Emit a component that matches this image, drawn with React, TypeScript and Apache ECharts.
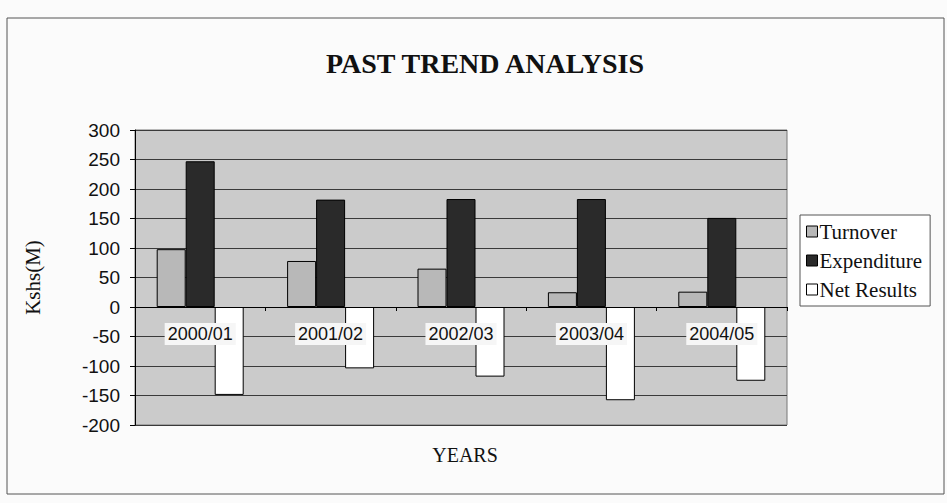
import React, { useEffect, useRef } from "react";
import * as echarts from "echarts";

const categories = ["2000/01", "2001/02", "2002/03", "2003/04", "2004/05"];
const turnover = [98, 78, 65, 25, 26];
const expenditure = [247, 182, 183, 183, 151];
const netResults = [-149, -104, -118, -158, -125];
const seriesNames = ["Turnover", "Expenditure", "Net Results"];

export default function App() {
  const ref = useRef<HTMLDivElement>(null);
  useEffect(() => {
    if (!ref.current) return;
    const chart = echarts.init(ref.current, null, { renderer: "svg" });
    const serif = "'Liberation Serif', 'Times New Roman', serif";
    const sans = "'Liberation Sans', Arial, sans-serif";
    chart.setOption({
      animation: false,
      backgroundColor: "#fbfbfb",
      title: {
        text: "PAST TREND ANALYSIS",
        left: 480,
        textAlign: "center",
        top: 44,
        textStyle: { fontFamily: serif, fontSize: 28, fontWeight: "bold", color: "#111" },
      },
      graphic: [
        {
          type: "rect",
          shape: { x: 7, y: 18, width: 937, height: 476 },
          style: { fill: "none", stroke: "#555", lineWidth: 1 },
          silent: true,
        },
        {
          type: "text",
          x: 465,
          y: 455,
          style: {
            text: "YEARS",
            fontFamily: serif,
            fontSize: 20,
            fill: "#111",
            align: "center",
            verticalAlign: "middle",
          },
        },
      ],
      legend: {
        orient: "vertical",
        left: 800,
        top: 215,
        icon: "rect",
        itemWidth: 11,
        itemHeight: 11,
        itemGap: 8,
        padding: [6, 8, 6, 6],
        backgroundColor: "#ffffff",
        borderColor: "#555",
        borderWidth: 1,
        data: seriesNames,
        textStyle: { fontFamily: serif, fontSize: 21, color: "#111", padding: [0, 0, 0, -3] },
        itemStyle: { borderColor: "#000", borderWidth: 1 },
      },
      grid: {
        left: 135,
        right: 160,
        top: 130,
        bottom: 78,
        show: true,
        backgroundColor: "#cbcbcb",
        borderColor: "#777",
        borderWidth: 1,
      },
      xAxis: {
        type: "category",
        data: categories,
        axisLine: { onZero: true, lineStyle: { color: "#000", width: 1 } },
        axisTick: { show: true, length: 4, lineStyle: { color: "#000" } },
        axisLabel: {
          fontFamily: sans,
          fontSize: 18,
          color: "#111",
          margin: -102,
          backgroundColor: "#f6f6f6",
          padding: [2, 3, 2, 3],
        },
        z: 10,
      },
      yAxis: {
        type: "value",
        min: -200,
        max: 300,
        interval: 50,
        name: "Kshs(M)",
        nameLocation: "middle",
        nameGap: 92,
        nameRotate: 90,
        nameTextStyle: { fontFamily: serif, fontSize: 21, color: "#111" },
        axisLine: { show: true, lineStyle: { color: "#000" } },
        axisTick: { show: true, length: 5, lineStyle: { color: "#000" } },
        axisLabel: { fontFamily: sans, fontSize: 19, color: "#111", margin: 15 },
        splitLine: { show: true, lineStyle: { color: "#3a3a3a", width: 1 } },
      },
      series: [
        {
          name: seriesNames[0],
          type: "bar",
          data: turnover,
          barWidth: 29,
          barGap: "0%",
          itemStyle: { color: "#b8b8b8", borderColor: "#000", borderWidth: 1 },
        },
        {
          name: seriesNames[1],
          type: "bar",
          data: expenditure,
          barWidth: 29,
          barGap: "0%",
          itemStyle: { color: "#2a2a2a", borderColor: "#000", borderWidth: 1 },
        },
        {
          name: seriesNames[2],
          type: "bar",
          data: netResults,
          barWidth: 29,
          barGap: "0%",
          itemStyle: { color: "#ffffff", borderColor: "#000", borderWidth: 1 },
        },
      ],
    });
    return () => chart.dispose();
  }, []);
  return (
    <div
      ref={ref}
      style={{ position: "fixed", left: 0, top: 0, width: 947, height: 503 }}
    />
  );
}
